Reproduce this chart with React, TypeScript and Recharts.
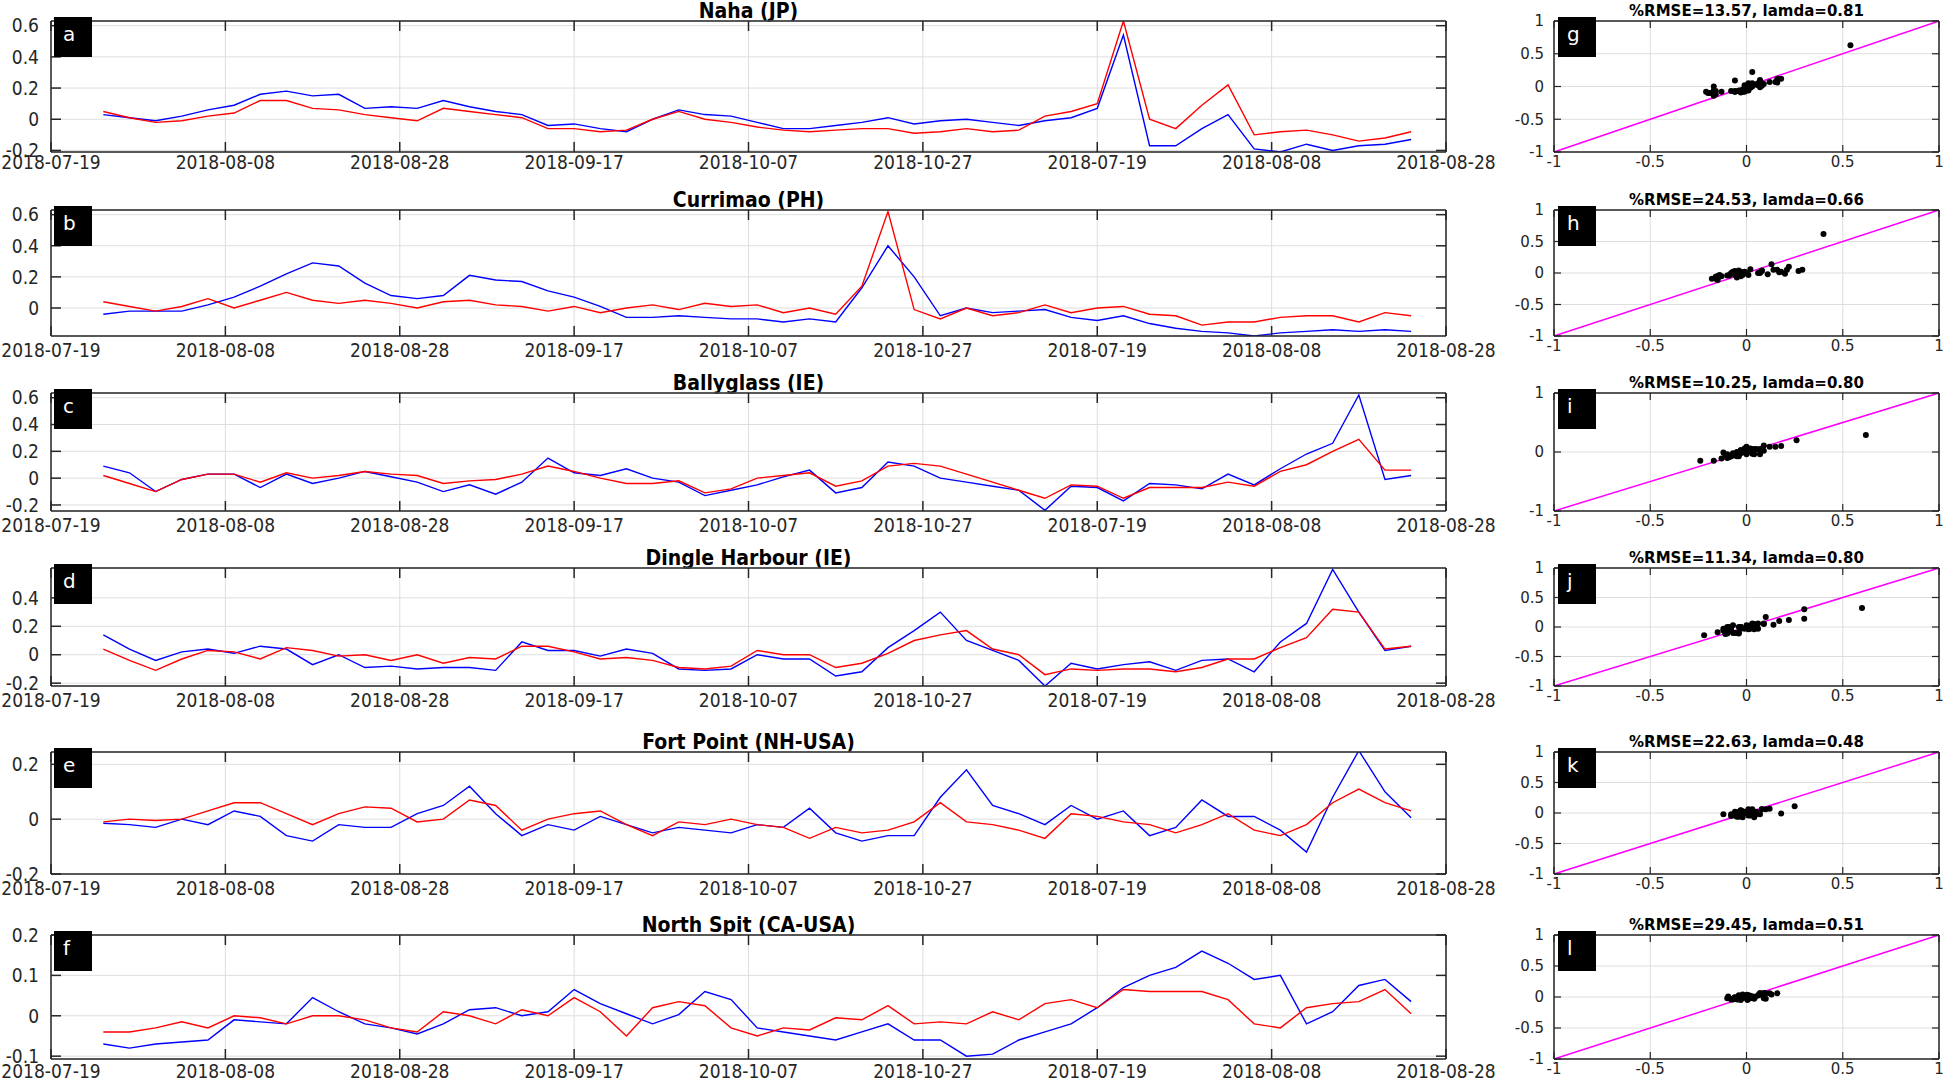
import React from "react";
import {
  LineChart,
  Line,
  ScatterChart,
  Scatter,
  XAxis,
  YAxis,
  CartesianGrid,
  ReferenceLine,
} from "recharts";

// day index of every sample (x position on the time axis)
const dayIdx = [
  6, 9, 12, 15, 18, 21, 24, 27, 30, 33, 36, 39, 42, 45, 48, 51, 54, 57, 60, 63, 66, 69, 72, 75, 78,
  81, 84, 87, 90, 93, 96, 99, 102, 105, 108, 111, 114, 117, 120, 123, 126, 129, 132, 135, 138, 141,
  144, 147, 150, 153, 156,
];

const dateTicks = [0, 20, 40, 60, 80, 100, 120, 140, 160];
const dateLabels = [
  "2018-07-19", "2018-08-08", "2018-08-28", "2018-09-17", "2018-10-07",
  "2018-10-27", "2018-07-19", "2018-08-08", "2018-08-28",
];

const nahaObs = [
  0.03, 0.01, -0.01, 0.02, 0.06, 0.09, 0.16, 0.18, 0.15, 0.16, 0.07, 0.08, 0.07, 0.12, 0.08, 0.05,
  0.03, -0.04, -0.03, -0.06, -0.08, 0.0, 0.06, 0.03, 0.02, -0.02, -0.06, -0.06, -0.04, -0.02, 0.01,
  -0.03, -0.01, 0.0, -0.02, -0.04, -0.01, 0.01, 0.07, 0.54, -0.17, -0.17, -0.06, 0.03, -0.19, -0.21,
  -0.16, -0.2, -0.17, -0.16, -0.13,
];
const nahaModel = [
  0.05, 0.01, -0.02, -0.01, 0.02, 0.04, 0.12, 0.12, 0.07, 0.06, 0.03, 0.01, -0.01, 0.07, 0.05, 0.03,
  0.01, -0.06, -0.06, -0.08, -0.07, 0.0, 0.05, 0.0, -0.02, -0.05, -0.07, -0.08, -0.07, -0.06, -0.06,
  -0.09, -0.08, -0.06, -0.08, -0.07, 0.02, 0.05, 0.1, 0.63, 0.0, -0.06, 0.09, 0.22, -0.1, -0.08,
  -0.07, -0.1, -0.14, -0.12, -0.08,
];

const currimaoObs = [
  -0.04, -0.02, -0.02, -0.02, 0.02, 0.07, 0.14, 0.22, 0.29, 0.27, 0.16, 0.08, 0.06, 0.08, 0.21, 0.18,
  0.17, 0.11, 0.07, 0.01, -0.06, -0.06, -0.05, -0.06, -0.07, -0.07, -0.09, -0.07, -0.09, 0.13, 0.4,
  0.2, -0.05, 0.0, -0.03, -0.02, -0.01, -0.06, -0.08, -0.05, -0.1, -0.13, -0.15, -0.16, -0.18, -0.16,
  -0.15, -0.14, -0.15, -0.14, -0.15,
];
const currimaoModel = [
  0.04, 0.01, -0.02, 0.01, 0.06, 0.0, 0.05, 0.1, 0.05, 0.03, 0.05, 0.03, 0.0, 0.04, 0.05, 0.02, 0.01,
  -0.02, 0.01, -0.03, 0.0, 0.02, -0.01, 0.03, 0.01, 0.02, -0.03, 0.0, -0.04, 0.14, 0.62, -0.01, -0.07,
  0.0, -0.05, -0.03, 0.02, -0.03, 0.0, 0.01, -0.04, -0.05, -0.11, -0.09, -0.09, -0.06, -0.05, -0.05,
  -0.09, -0.03, -0.05,
];

const ballyObs = [
  0.09, 0.04, -0.1, -0.01, 0.03, 0.03, -0.07, 0.03, -0.04, 0.0, 0.05, 0.01, -0.03, -0.1, -0.05, -0.12,
  -0.03, 0.15, 0.04, 0.02, 0.07, 0.0, -0.03, -0.13, -0.09, -0.05, 0.01, 0.06, -0.11, -0.07, 0.12,
  0.09, 0.0, -0.03, -0.06, -0.09, -0.24, -0.06, -0.07, -0.17, -0.04, -0.05, -0.08, 0.03, -0.05, 0.07,
  0.18, 0.26, 0.62, -0.01, 0.02,
];
const ballyModel = [
  0.02, -0.04, -0.1, -0.01, 0.03, 0.03, -0.03, 0.04, 0.0, 0.02, 0.05, 0.03, 0.02, -0.04, -0.02, -0.01,
  0.03, 0.09, 0.05, 0.0, -0.04, -0.04, -0.02, -0.11, -0.08, 0.0, 0.02, 0.04, -0.06, -0.02, 0.09, 0.11,
  0.09, 0.03, -0.03, -0.09, -0.15, -0.05, -0.06, -0.15, -0.07, -0.07, -0.07, -0.03, -0.06, 0.05, 0.1,
  0.2, 0.29, 0.06, 0.06,
];

const dingleObs = [
  0.14, 0.04, -0.04, 0.02, 0.04, 0.01, 0.06, 0.04, -0.07, 0.0, -0.09, -0.08, -0.1, -0.09, -0.09, -0.11,
  0.09, 0.03, 0.03, -0.01, 0.04, 0.01, -0.1, -0.11, -0.1, 0.0, -0.03, -0.03, -0.15, -0.12, 0.05, 0.17,
  0.3, 0.1, 0.03, -0.04, -0.22, -0.06, -0.1, -0.07, -0.05, -0.11, -0.04, -0.03, -0.12, 0.09, 0.22, 0.6,
  0.3, 0.03, 0.06,
];
const dingleModel = [
  0.04, -0.04, -0.11, -0.03, 0.03, 0.02, -0.03, 0.05, 0.03, -0.01, 0.0, -0.04, 0.0, -0.06, -0.02,
  -0.03, 0.06, 0.06, 0.02, -0.03, -0.02, -0.04, -0.09, -0.1, -0.08, 0.03, 0.0, 0.0, -0.09, -0.06,
  0.01, 0.1, 0.14, 0.17, 0.04, 0.0, -0.14, -0.1, -0.11, -0.1, -0.1, -0.12, -0.09, -0.03, -0.03, 0.05,
  0.12, 0.32, 0.3, 0.04, 0.06,
];

const fortObs = [
  -0.015, -0.02, -0.03, 0.0, -0.02, 0.03, 0.01, -0.06, -0.08, -0.02, -0.03, -0.03, 0.02, 0.05, 0.12,
  0.02, -0.06, -0.02, -0.04, 0.01, -0.02, -0.05, -0.03, -0.04, -0.05, -0.02, -0.03, 0.04, -0.05,
  -0.08, -0.06, -0.06, 0.08, 0.18, 0.05, 0.02, -0.02, 0.05, 0.0, 0.03, -0.06, -0.03, 0.07, 0.01, 0.01,
  -0.04, -0.12, 0.08, 0.25, 0.1, 0.005,
];
const fortModel = [
  -0.01, 0.0, -0.005, 0.0, 0.03, 0.06, 0.06, 0.02, -0.02, 0.02, 0.045, 0.04, -0.01, 0.0, 0.07, 0.05,
  -0.04, 0.0, 0.02, 0.03, -0.02, -0.06, -0.01, -0.02, 0.0, -0.02, -0.03, -0.07, -0.03, -0.05, -0.04,
  -0.01, 0.06, -0.01, -0.02, -0.04, -0.07, 0.02, 0.01, -0.01, -0.02, -0.05, -0.02, 0.02, -0.04, -0.06,
  -0.02, 0.06, 0.11, 0.06, 0.03,
];

const spitObs = [
  -0.07, -0.08, -0.07, -0.065, -0.06, -0.01, -0.015, -0.02, 0.045, 0.01, -0.02, -0.03, -0.045, -0.02,
  0.015, 0.02, 0.0, 0.01, 0.065, 0.03, 0.005, -0.02, 0.003, 0.06, 0.04, -0.03, -0.04, -0.05, -0.06,
  -0.04, -0.02, -0.06, -0.06, -0.1, -0.095, -0.06, -0.04, -0.02, 0.02, 0.07, 0.1, 0.12, 0.16, 0.13,
  0.09, 0.1, -0.02, 0.01, 0.075, 0.09, 0.035,
];
const spitModel = [
  -0.04, -0.04, -0.03, -0.015, -0.03, 0.0, -0.005, -0.02, 0.0, 0.0, -0.01, -0.03, -0.04, 0.01, 0.0,
  -0.02, 0.015, 0.0, 0.045, 0.01, -0.05, 0.02, 0.035, 0.025, -0.03, -0.05, -0.03, -0.035, -0.005,
  -0.01, 0.025, -0.02, -0.015, -0.02, 0.01, -0.01, 0.03, 0.04, 0.02, 0.065, 0.06, 0.06, 0.06, 0.04,
  -0.02, -0.03, 0.02, 0.03, 0.035, 0.065, 0.005,
];

const stationNames = [
  "Naha (JP)", "Currimao (PH)", "Ballyglass (IE)",
  "Dingle Harbour (IE)", "Fort Point (NH-USA)", "North Spit (CA-USA)",
];
const seriesLetters = ["a", "b", "c", "d", "e", "f"];
const scatterLetters = ["g", "h", "i", "j", "k", "l"];
const scatterTitles = [
  "%RMSE=13.57, lamda=0.81", "%RMSE=24.53, lamda=0.66", "%RMSE=10.25, lamda=0.80",
  "%RMSE=11.34, lamda=0.80", "%RMSE=22.63, lamda=0.48", "%RMSE=29.45, lamda=0.51",
];
const obsSeries = [nahaObs, currimaoObs, ballyObs, dingleObs, fortObs, spitObs];
const modelSeries = [nahaModel, currimaoModel, ballyModel, dingleModel, fortModel, spitModel];

const yDomains: [number, number][] = [
  [-0.21, 0.63], [-0.18, 0.63], [-0.245, 0.635], [-0.22, 0.61], [-0.2, 0.245], [-0.107, 0.2],
];
const yTicks = [
  [-0.2, 0, 0.2, 0.4, 0.6], [0, 0.2, 0.4, 0.6], [-0.2, 0, 0.2, 0.4, 0.6],
  [-0.2, 0, 0.2, 0.4], [-0.2, 0, 0.2], [-0.1, 0, 0.1, 0.2],
];
const scatterXTicks = [-1, -0.5, 0, 0.5, 1];
const scatterYTicks = [
  [-1, -0.5, 0, 0.5, 1], [-1, -0.5, 0, 0.5, 1], [-1, 0, 1],
  [-1, -0.5, 0, 0.5, 1], [-1, -0.5, 0, 0.5, 1], [-1, -0.5, 0, 0.5, 1],
];

// layout (page pixels)
const rowTop = [21, 210, 393, 568, 752, 935];
const rowH = [131, 126, 118, 118, 122, 124];
const xLabelGap = [4, 8, 8, 8, 8, 6];
const PLOT_L = 51;
const PLOT_W = 1395;
const SC_L = 1554;
const SC_W = 385;

const FRAME = "#262626";
const GRID = "#dedede";
const NARROW = "'Liberation Sans Narrow', 'DejaVu Sans Condensed', 'DejaVu Sans', sans-serif";
const SANS = "'DejaVu Sans', sans-serif";

const fmtY = (v: number) => (Math.abs(v) < 1e-9 ? "0" : v.toFixed(1));
const fmtDate = (v: number) => dateLabels[dateTicks.indexOf(v)] ?? "";

function LetterBox({ left, top, letter }: { left: number; top: number; letter: string }) {
  return (
    <div
      style={{
        position: "absolute",
        left,
        top,
        width: 38,
        height: 40,
        background: "#000",
        color: "#fff",
        fontFamily: SANS,
        fontSize: 20,
        lineHeight: "24px",
        paddingLeft: 9,
        paddingTop: 5,
        boxSizing: "border-box",
      }}
    >
      {letter}
    </div>
  );
}

function SeriesPanel({ i }: { i: number }) {
  const data = dayIdx.map((u, k) => ({ u, obs: obsSeries[i][k], model: modelSeries[i][k] }));
  const top = rowTop[i];
  const h = rowH[i];
  const YW = 51;
  const TOPH = 14;
  const XH = 30;
  const labelTick = { fill: FRAME, fontSize: 19, fontFamily: NARROW };
  return (
    <>
      <div
        style={{
          position: "absolute",
          left: PLOT_L,
          width: PLOT_W,
          top: top - 22,
          textAlign: "center",
          fontFamily: NARROW,
          fontWeight: "bold",
          fontSize: 21,
          lineHeight: "24px",
          color: "#000",
        }}
      >
        {stationNames[i]}
      </div>
      <div style={{ position: "absolute", left: PLOT_L - YW, top: top - TOPH }}>
        <LineChart
          width={YW + PLOT_W + 60}
          height={TOPH + h + XH}
          data={data}
          margin={{ top: 0, right: 0, bottom: 0, left: 0 }}
        >
          <CartesianGrid stroke={GRID} strokeWidth={1} />
          <XAxis
            type="number"
            dataKey="u"
            domain={[0, 160]}
            ticks={dateTicks}
            interval={0}
            height={XH}
            tickFormatter={fmtDate}
            tick={labelTick}
            tickSize={-10}
            tickMargin={10 + xLabelGap[i]}
            axisLine={{ stroke: FRAME, strokeWidth: 1.5 }}
            tickLine={{ stroke: FRAME, strokeWidth: 1.5 }}
          />
          <XAxis
            xAxisId="top"
            orientation="top"
            type="number"
            dataKey="u"
            domain={[0, 160]}
            ticks={dateTicks}
            interval={0}
            height={TOPH}
            tickFormatter={() => ""}
            tickSize={-10}
            axisLine={{ stroke: FRAME, strokeWidth: 1.5 }}
            tickLine={{ stroke: FRAME, strokeWidth: 1.5 }}
          />
          <YAxis
            type="number"
            domain={yDomains[i]}
            ticks={yTicks[i]}
            interval={0}
            allowDataOverflow
            width={YW}
            tickFormatter={fmtY}
            tick={labelTick}
            tickSize={-10}
            tickMargin={22}
            axisLine={{ stroke: FRAME, strokeWidth: 1.5 }}
            tickLine={{ stroke: FRAME, strokeWidth: 1.5 }}
          />
          <YAxis
            yAxisId="right"
            orientation="right"
            type="number"
            domain={yDomains[i]}
            ticks={yTicks[i]}
            interval={0}
            allowDataOverflow
            width={60}
            tickFormatter={() => ""}
            tickSize={-10}
            axisLine={{ stroke: FRAME, strokeWidth: 1.5 }}
            tickLine={{ stroke: FRAME, strokeWidth: 1.5 }}
          />
          <Line
            type="linear"
            dataKey="obs"
            stroke="#0000ff"
            strokeWidth={1.4}
            dot={false}
            isAnimationActive={false}
          />
          <Line
            type="linear"
            dataKey="model"
            stroke="#ff0000"
            strokeWidth={1.4}
            dot={false}
            isAnimationActive={false}
          />
        </LineChart>
      </div>
      <LetterBox left={PLOT_L + 3} top={top - 4} letter={seriesLetters[i]} />
    </>
  );
}

const DotShape = (props: { cx?: number; cy?: number }) => (
  <circle cx={props.cx} cy={props.cy} r={3} fill="#000" />
);

function ScatterPanel({ i }: { i: number }) {
  const pts = obsSeries[i].map((o, k) => ({ x: o, y: modelSeries[i][k] }));
  const top = rowTop[i];
  const h = rowH[i];
  const YW = 44;
  const TOPH = 12;
  const XH = 26;
  const labelTick = { fill: FRAME, fontSize: 15, fontFamily: SANS };
  return (
    <>
      <div
        style={{
          position: "absolute",
          left: SC_L,
          width: SC_W,
          top: top - 19,
          textAlign: "center",
          fontFamily: SANS,
          fontWeight: "bold",
          fontSize: 15,
          lineHeight: "18px",
          color: "#000",
        }}
      >
        {scatterTitles[i]}
      </div>
      <div style={{ position: "absolute", left: SC_L - YW, top: top - TOPH }}>
        <ScatterChart
          width={YW + SC_W + 10}
          height={TOPH + h + XH}
          margin={{ top: 0, right: 0, bottom: 0, left: 0 }}
        >
          <CartesianGrid stroke={GRID} strokeWidth={1} />
          <XAxis
            type="number"
            dataKey="x"
            domain={[-1, 1]}
            ticks={scatterXTicks}
            interval={0}
            allowDataOverflow
            height={XH}
            tick={labelTick}
            tickSize={-7}
            tickMargin={11}
            axisLine={{ stroke: FRAME, strokeWidth: 1.5 }}
            tickLine={{ stroke: FRAME, strokeWidth: 1.2 }}
          />
          <XAxis
            xAxisId="top"
            orientation="top"
            type="number"
            dataKey="x"
            domain={[-1, 1]}
            ticks={scatterXTicks}
            interval={0}
            allowDataOverflow
            height={TOPH}
            tickFormatter={() => ""}
            tickSize={-7}
            axisLine={{ stroke: FRAME, strokeWidth: 1.5 }}
            tickLine={{ stroke: FRAME, strokeWidth: 1.2 }}
          />
          <YAxis
            type="number"
            dataKey="y"
            domain={[-1, 1]}
            ticks={scatterYTicks[i]}
            interval={0}
            allowDataOverflow
            width={YW}
            tick={labelTick}
            tickSize={-7}
            tickMargin={17}
            axisLine={{ stroke: FRAME, strokeWidth: 1.5 }}
            tickLine={{ stroke: FRAME, strokeWidth: 1.2 }}
          />
          <YAxis
            yAxisId="right"
            orientation="right"
            type="number"
            dataKey="y"
            domain={[-1, 1]}
            ticks={scatterYTicks[i]}
            interval={0}
            allowDataOverflow
            width={10}
            tickFormatter={() => ""}
            tickSize={-7}
            axisLine={{ stroke: FRAME, strokeWidth: 1.5 }}
            tickLine={{ stroke: FRAME, strokeWidth: 1.2 }}
          />
          <Scatter data={pts} shape={DotShape} isAnimationActive={false} />
          <ReferenceLine
            segment={[
              { x: -1, y: -1 },
              { x: 1, y: 1 },
            ]}
            stroke="#ff00ff"
            strokeWidth={1.5}
          />
        </ScatterChart>
      </div>
      <LetterBox left={SC_L + 4} top={top - 4} letter={scatterLetters[i]} />
    </>
  );
}

export default function App() {
  return (
    <div
      style={{
        position: "absolute",
        left: 0,
        top: 0,
        width: 1949,
        height: 1086,
        background: "#fff",
        overflow: "hidden",
      }}
    >
      {stationNames.map((_, i) => (
        <React.Fragment key={i}>
          <SeriesPanel i={i} />
          <ScatterPanel i={i} />
        </React.Fragment>
      ))}
    </div>
  );
}
